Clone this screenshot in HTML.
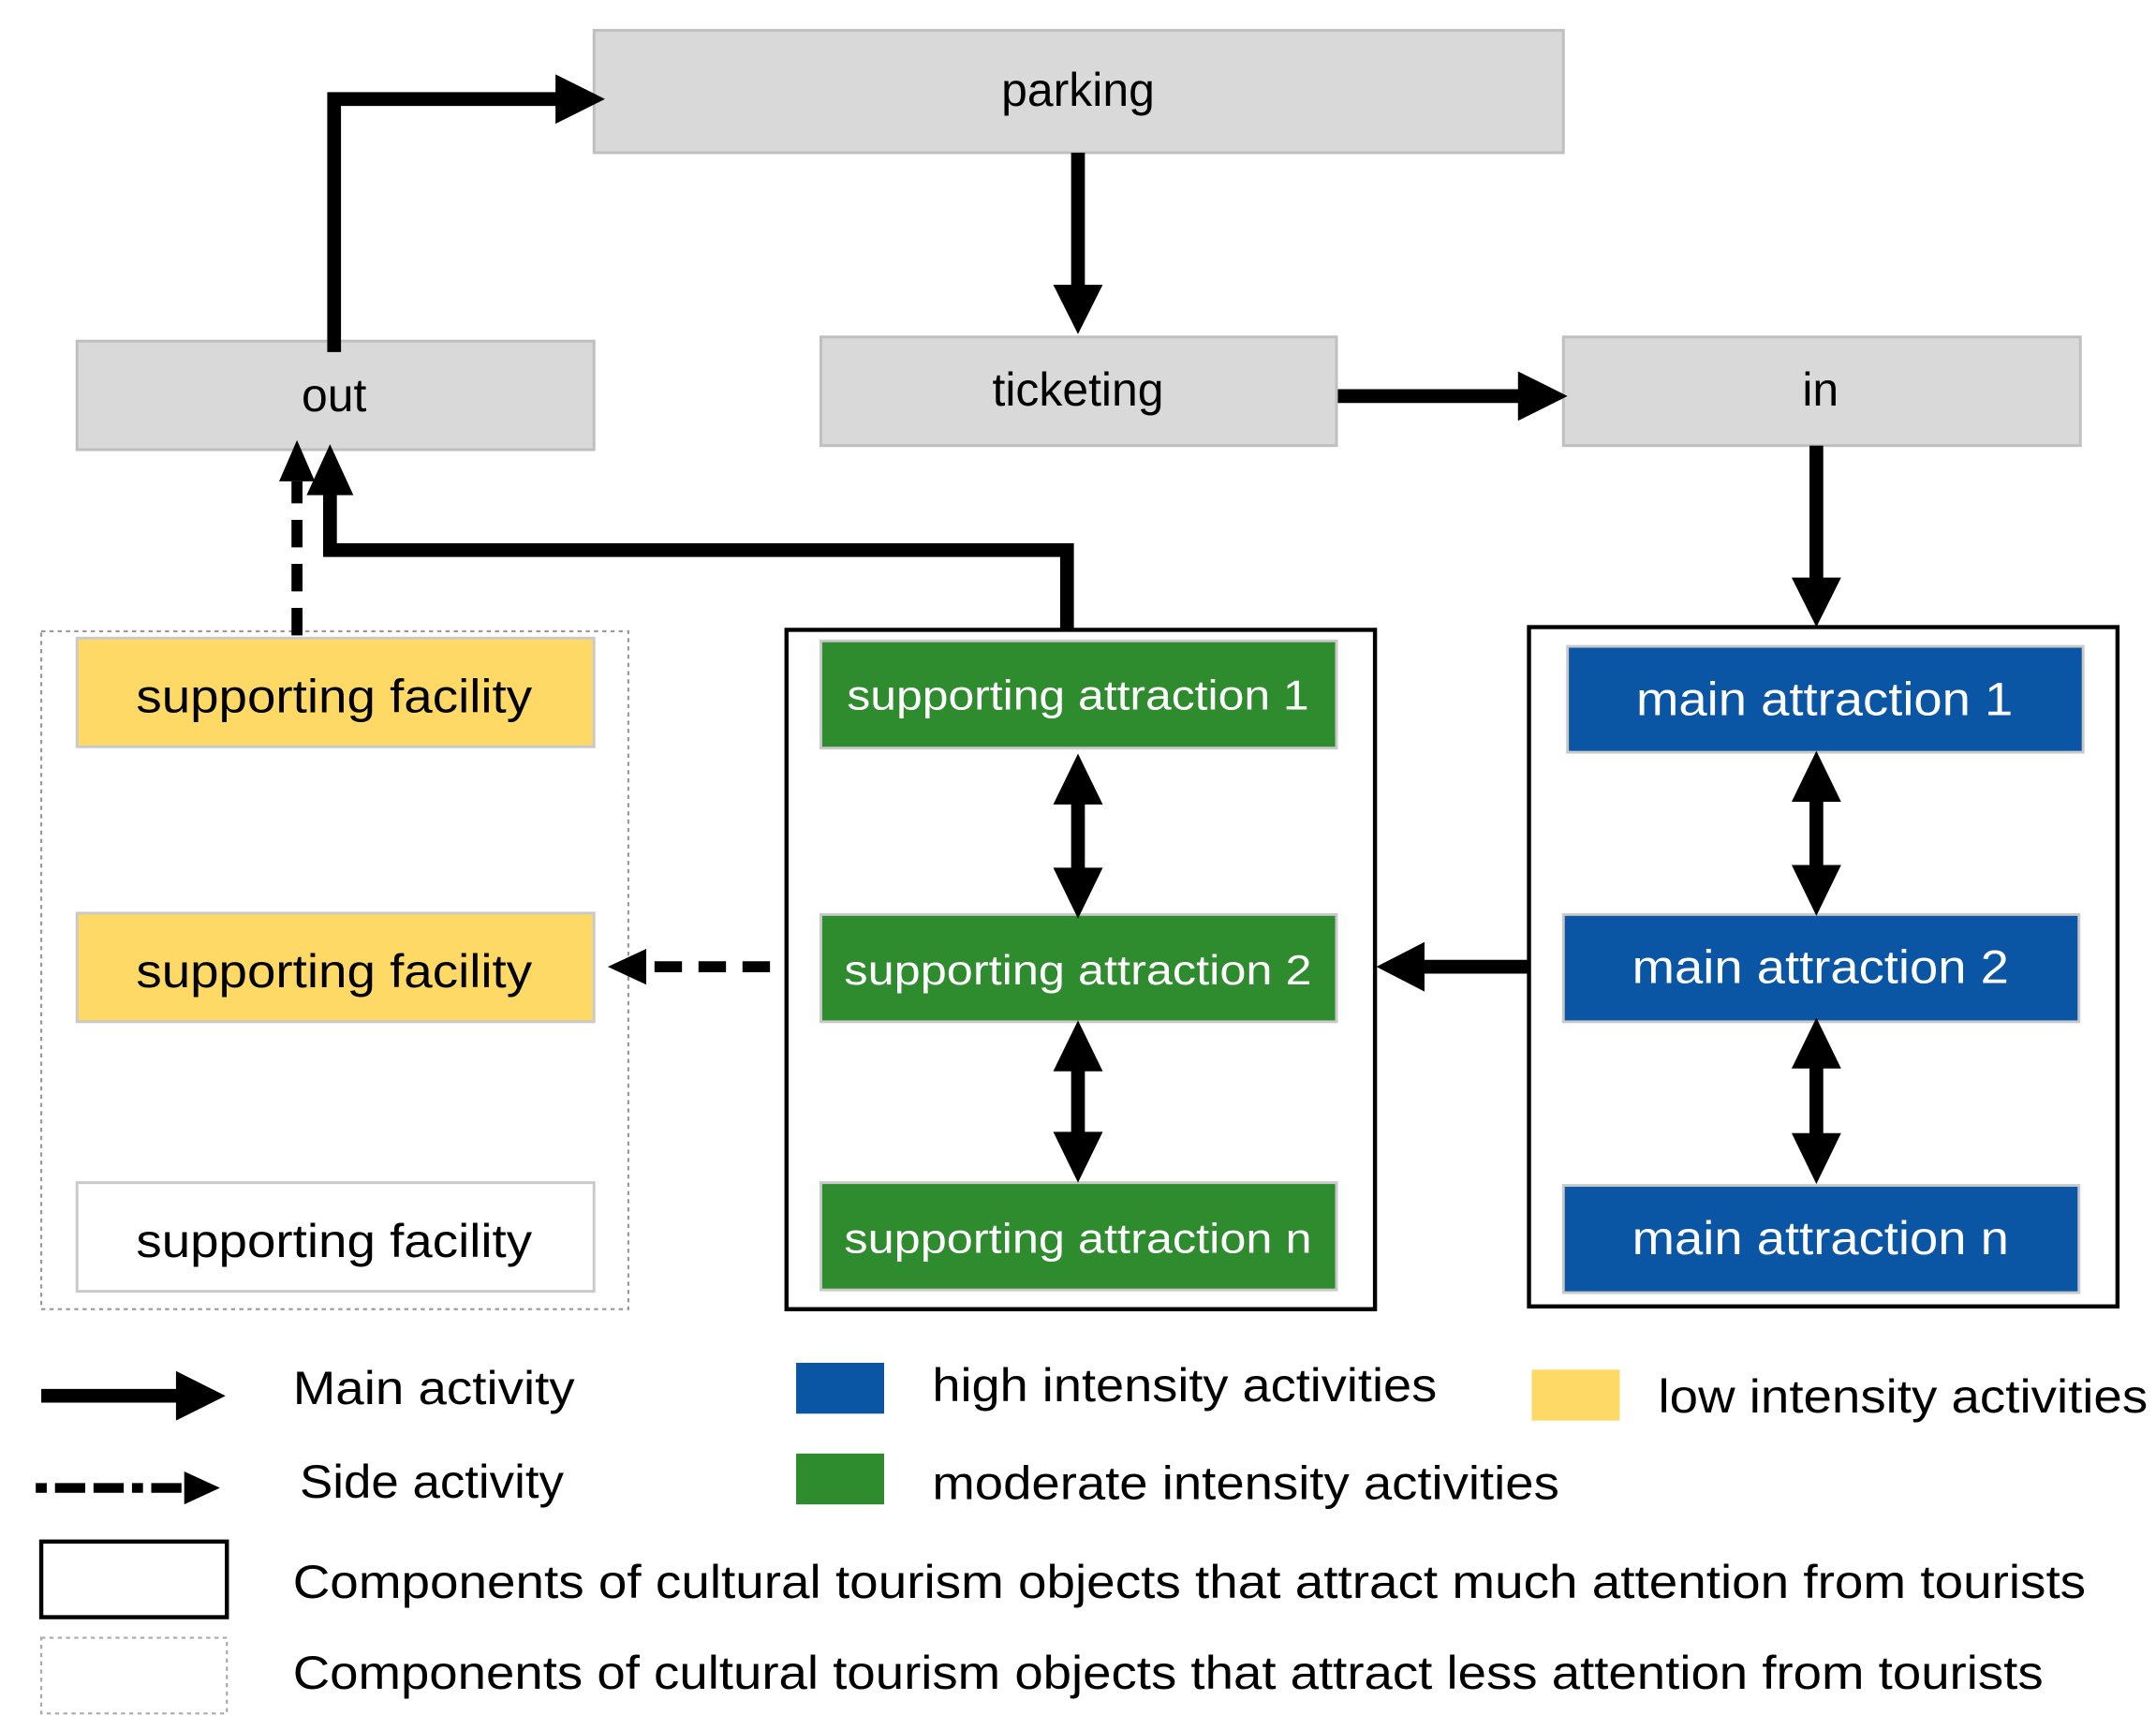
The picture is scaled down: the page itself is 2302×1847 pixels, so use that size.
<!DOCTYPE html>
<html><head><meta charset="utf-8"><style>html,body{margin:0;padding:0;background:#fff}svg{display:block}</style></head>
<body>
<svg width="2302" height="1847" viewBox="0 0 1568 1258" xmlns="http://www.w3.org/2000/svg" font-family="Liberation Sans, sans-serif">
<defs>
<marker id="ah" markerWidth="4" markerHeight="4" refX="2" refY="2" orient="auto" markerUnits="strokeWidth"><path d="M0,0.2 L3.6,2 L0,3.8 z" fill="#000"/></marker>
</defs>
<rect width="1568" height="1258" fill="#fff"/>
<!-- grey boxes -->
<g fill="#d9d9d9" stroke="#bfbfbf" stroke-width="2">
<rect x="432" y="22" width="705" height="89"/>
<rect x="56" y="248" width="376" height="79"/>
<rect x="597" y="245" width="375" height="79"/>
<rect x="1137" y="245" width="376" height="79"/>
</g>
<g font-size="34" text-anchor="middle" fill="#000">
<text x="784" y="77">parking</text>
<text x="243" y="299">out</text>
<text x="784" y="295">ticketing</text>
<text x="1324" y="295">in</text>
</g>
<!-- containers -->
<rect x="30" y="459" width="427" height="493" fill="none" stroke="#999" stroke-width="1.5" stroke-dasharray="3,3"/>
<rect x="572" y="458" width="428" height="494" fill="none" stroke="#000" stroke-width="3"/>
<rect x="1112" y="456" width="428" height="494" fill="none" stroke="#000" stroke-width="3"/>
<!-- yellow -->
<g stroke="#c9c9c9" stroke-width="2">
<rect x="56" y="464" width="376" height="79" fill="#ffd966"/>
<rect x="56" y="664" width="376" height="79" fill="#ffd966"/>
<rect x="56" y="860" width="376" height="79" fill="#fff"/>
<rect x="597" y="466" width="375" height="78" fill="#2e8b2e"/>
<rect x="597" y="665" width="375" height="78" fill="#2e8b2e"/>
<rect x="597" y="860" width="375" height="78" fill="#2e8b2e"/>
<rect x="1140" y="470" width="375" height="77" fill="#0b56a4"/>
<rect x="1137" y="665" width="375" height="78" fill="#0b56a4"/>
<rect x="1137" y="862" width="375" height="78" fill="#0b56a4"/>
</g>
<g font-size="34" text-anchor="middle">
<text x="243" y="518" textLength="288" lengthAdjust="spacingAndGlyphs">supporting facility</text>
<text x="243" y="718" textLength="288" lengthAdjust="spacingAndGlyphs">supporting facility</text>
<text x="243" y="914" textLength="288" lengthAdjust="spacingAndGlyphs">supporting facility</text>
</g>
<g font-size="30" text-anchor="middle" fill="#fff">
<text x="784" y="516" textLength="336" lengthAdjust="spacingAndGlyphs">supporting attraction 1</text>
<text x="784" y="716" textLength="340" lengthAdjust="spacingAndGlyphs">supporting  attraction 2</text>
<text x="784" y="911" textLength="340" lengthAdjust="spacingAndGlyphs">supporting  attraction n</text>
</g>
<g font-size="34" text-anchor="middle" fill="#fff">
<text x="1327" y="520" textLength="274" lengthAdjust="spacingAndGlyphs">main attraction 1</text>
<text x="1324" y="715" textLength="274" lengthAdjust="spacingAndGlyphs">main attraction 2</text>
<text x="1324" y="912" textLength="274" lengthAdjust="spacingAndGlyphs">main attraction n</text>
</g>
<!-- arrows -->
<g stroke="#000" stroke-width="10" fill="none">
<polyline points="243,256 243,72 412,72"/>
<line x1="784" y1="111" x2="784" y2="215"/>
<line x1="973" y1="288" x2="1112" y2="288"/>
<line x1="1321" y1="324" x2="1321" y2="428"/>
<polyline points="776,458 776,400 240,400 240,355"/>
<line x1="1112" y1="703" x2="1030" y2="703"/>
<line x1="784" y1="578" x2="784" y2="636"/>
<line x1="784" y1="772" x2="784" y2="830"/>
<line x1="1321" y1="577" x2="1321" y2="636"/>
<line x1="1321" y1="770" x2="1321" y2="831"/>
<line x1="30" y1="1015" x2="135" y2="1015"/>
</g>
<g stroke="#000" stroke-width="8" fill="none" stroke-dasharray="20,12">
<line x1="216" y1="462" x2="216" y2="350"/>
<line x1="560" y1="703" x2="466" y2="703"/>
</g>
<line x1="26" y1="1082" x2="135" y2="1082" stroke="#000" stroke-width="7" stroke-dasharray="8,6,22,6,22,6"/>
<g fill="#000">
<polygon points="440,72 404,54 404,90"/>
<polygon points="784,243 766,207 802,207"/>
<polygon points="1140,288 1104,270 1104,306"/>
<polygon points="1321,456 1303,420 1339,420"/>
<polygon points="240,323 223,360 257,360"/>
<polygon points="216,320 203,350 229,350"/>
<polygon points="1001,703 1036,685 1036,721"/>
<polygon points="442,703 470,690 470,716"/>
<polygon points="784,548 766,585 802,585"/>
<polygon points="784,668 766,631 802,631"/>
<polygon points="784,742 766,779 802,779"/>
<polygon points="784,860 766,823 802,823"/>
<polygon points="1321,546 1303,583 1339,583"/>
<polygon points="1321,666 1303,629 1339,629"/>
<polygon points="1321,740 1303,777 1339,777"/>
<polygon points="1321,861 1303,824 1339,824"/>
<polygon points="164,1015 128,997 128,1033"/>
<polygon points="160,1082 134,1070 134,1094"/>
</g>
<!-- legend -->
<rect x="579" y="991" width="64" height="37" fill="#0b56a4"/>
<rect x="579" y="1057" width="64" height="37" fill="#2e8b2e"/>
<rect x="1114" y="996" width="64" height="37" fill="#ffd966"/>
<rect x="30" y="1121" width="135" height="55" fill="none" stroke="#000" stroke-width="3"/>
<rect x="30" y="1191" width="135" height="55" fill="none" stroke="#aaa" stroke-width="1.5" stroke-dasharray="3,3"/>
<g font-size="34" fill="#000">
<text x="213" y="1021" textLength="205" lengthAdjust="spacingAndGlyphs">Main activity</text>
<text x="218" y="1089" textLength="192" lengthAdjust="spacingAndGlyphs">Side activity</text>
<text x="678" y="1019" textLength="367" lengthAdjust="spacingAndGlyphs">high intensity activities</text>
<text x="678" y="1090" textLength="456" lengthAdjust="spacingAndGlyphs">moderate intensity activities</text>
<text x="1206" y="1027" textLength="356" lengthAdjust="spacingAndGlyphs">low intensity activities</text>
<text x="213" y="1162" textLength="1304" lengthAdjust="spacingAndGlyphs">Components of cultural tourism objects that attract much attention from tourists</text>
<text x="213" y="1228" textLength="1273" lengthAdjust="spacingAndGlyphs">Components of cultural tourism objects that attract less attention from tourists</text>
</g>
</svg>
</body></html>
